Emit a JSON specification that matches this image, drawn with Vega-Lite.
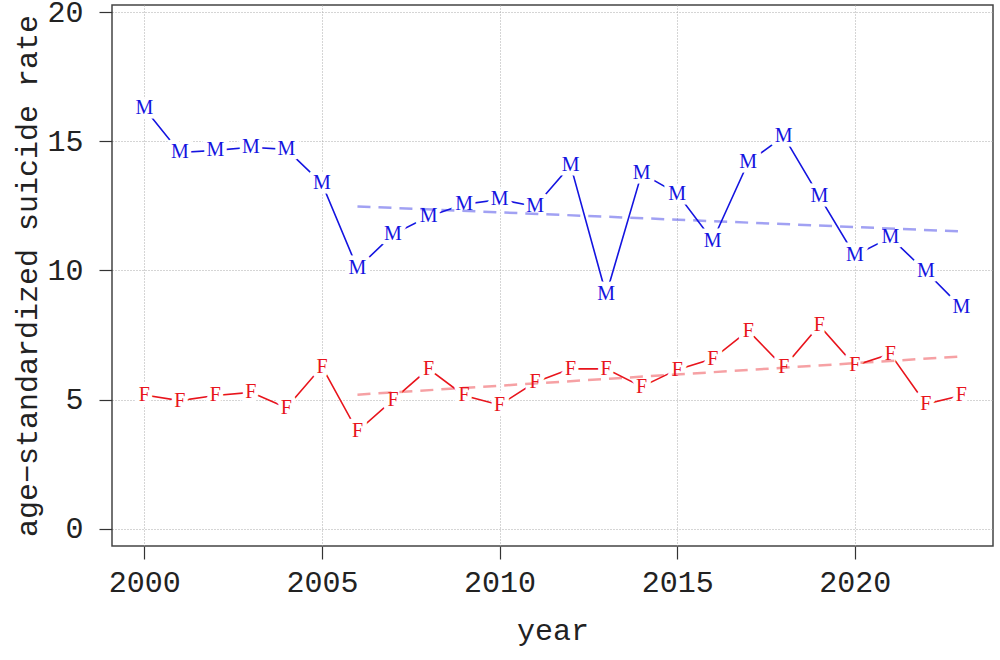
{
  "$schema": "https://vega.github.io/schema/vega-lite/v6.json",
  "width": 881,
  "height": 541,
  "autosize": "none",
  "padding": {"left": 112, "top": 5, "right": 7, "bottom": 114},
  "background": "white",
  "config": {
    "view": {"stroke": "#444", "strokeWidth": 1.5},
    "axis": {
      "labelFont": "Liberation Mono",
      "titleFont": "Liberation Mono",
      "labelFontSize": 30,
      "titleFontSize": 30,
      "titleFontWeight": "normal",
      "labelColor": "#222",
      "titleColor": "#222",
      "domain": false,
      "tickColor": "#333",
      "tickSize": 13,
      "tickWidth": 1.2,
      "gridColor": "#aaaaaa",
      "gridDash": [1, 2],
      "gridWidth": 1
    }
  },
  "datasets": {
    "rates": [
      {"year": 2000, "sex": "M", "rate": 16.28},
      {"year": 2001, "sex": "M", "rate": 14.57},
      {"year": 2002, "sex": "M", "rate": 14.65},
      {"year": 2003, "sex": "M", "rate": 14.77},
      {"year": 2004, "sex": "M", "rate": 14.69},
      {"year": 2005, "sex": "M", "rate": 13.37},
      {"year": 2006, "sex": "M", "rate": 10.08},
      {"year": 2007, "sex": "M", "rate": 11.4},
      {"year": 2008, "sex": "M", "rate": 12.09},
      {"year": 2009, "sex": "M", "rate": 12.56},
      {"year": 2010, "sex": "M", "rate": 12.75},
      {"year": 2011, "sex": "M", "rate": 12.48},
      {"year": 2012, "sex": "M", "rate": 14.07},
      {"year": 2013, "sex": "M", "rate": 9.07},
      {"year": 2014, "sex": "M", "rate": 13.76},
      {"year": 2015, "sex": "M", "rate": 12.98},
      {"year": 2016, "sex": "M", "rate": 11.16},
      {"year": 2017, "sex": "M", "rate": 14.19},
      {"year": 2018, "sex": "M", "rate": 15.19},
      {"year": 2019, "sex": "M", "rate": 12.87},
      {"year": 2020, "sex": "M", "rate": 10.58},
      {"year": 2021, "sex": "M", "rate": 11.28},
      {"year": 2022, "sex": "M", "rate": 9.96},
      {"year": 2023, "sex": "M", "rate": 8.57},
      {"year": 2000, "sex": "F", "rate": 5.18},
      {"year": 2001, "sex": "F", "rate": 4.96},
      {"year": 2002, "sex": "F", "rate": 5.16},
      {"year": 2003, "sex": "F", "rate": 5.28},
      {"year": 2004, "sex": "F", "rate": 4.68},
      {"year": 2005, "sex": "F", "rate": 6.28},
      {"year": 2006, "sex": "F", "rate": 3.77},
      {"year": 2007, "sex": "F", "rate": 4.99},
      {"year": 2008, "sex": "F", "rate": 6.19},
      {"year": 2009, "sex": "F", "rate": 5.16},
      {"year": 2010, "sex": "F", "rate": 4.79},
      {"year": 2011, "sex": "F", "rate": 5.67},
      {"year": 2012, "sex": "F", "rate": 6.19},
      {"year": 2013, "sex": "F", "rate": 6.19},
      {"year": 2014, "sex": "F", "rate": 5.5},
      {"year": 2015, "sex": "F", "rate": 6.16},
      {"year": 2016, "sex": "F", "rate": 6.58},
      {"year": 2017, "sex": "F", "rate": 7.67},
      {"year": 2018, "sex": "F", "rate": 6.25},
      {"year": 2019, "sex": "F", "rate": 7.87},
      {"year": 2020, "sex": "F", "rate": 6.32},
      {"year": 2021, "sex": "F", "rate": 6.77},
      {"year": 2022, "sex": "F", "rate": 4.83},
      {"year": 2023, "sex": "F", "rate": 5.16}
    ],
    "trend": [
      {"year": 2006, "sex": "M", "rate": 12.48},
      {"year": 2023, "sex": "M", "rate": 11.51},
      {"year": 2006, "sex": "F", "rate": 5.19},
      {"year": 2023, "sex": "F", "rate": 6.67}
    ]
  },
  "encoding": {
    "x": {
      "field": "year",
      "type": "quantitative",
      "scale": {"domain": [1999.09, 2023.89], "nice": false, "zero": false},
      "axis": {"values": [2000, 2005, 2010, 2015, 2020], "format": "d", "title": "year", "labelPadding": 8, "titlePadding": 18, "labelFlush": false}
    },
    "y": {
      "field": "rate",
      "type": "quantitative",
      "scale": {"domain": [-0.67, 20.28], "nice": false, "zero": false},
      "axis": {"values": [0, 5, 10, 15, 20], "title": "age−standardized suicide rate", "labelPadding": 16, "titlePadding": 4, "labelFlush": false}
    },
    "detail": {"field": "sex"}
  },
  "layer": [
    {
      "data": {"name": "rates"},
      "mark": {"type": "line", "strokeWidth": 1.6},
      "encoding": {
        "color": {"field": "sex", "type": "nominal", "scale": {"domain": ["M", "F"], "range": ["#1414e0", "#e8141c"]}, "legend": null}
      }
    },
    {
      "data": {"name": "rates"},
      "mark": {"type": "text", "font": "Liberation Serif", "fontSize": 20, "baseline": "middle", "align": "center", "stroke": "white", "strokeWidth": 9, "fill": "white", "strokeJoin": "round"},
      "encoding": {"text": {"field": "sex"}}
    },
    {
      "data": {"name": "trend"},
      "mark": {"type": "line", "strokeWidth": 2.5, "strokeDash": [13, 8]},
      "encoding": {
        "color": {"field": "sex", "type": "nominal", "scale": {"domain": ["M", "F"], "range": ["#1414e0", "#e8141c"]}, "legend": null},
        "opacity": {"value": 0.4}
      }
    },
    {
      "data": {"name": "rates"},
      "mark": {"type": "text", "font": "Liberation Serif", "fontSize": 20, "baseline": "middle", "align": "center"},
      "encoding": {
        "text": {"field": "sex"},
        "color": {"field": "sex", "type": "nominal", "scale": {"domain": ["M", "F"], "range": ["#1414e0", "#e8141c"]}, "legend": null}
      }
    }
  ]
}
